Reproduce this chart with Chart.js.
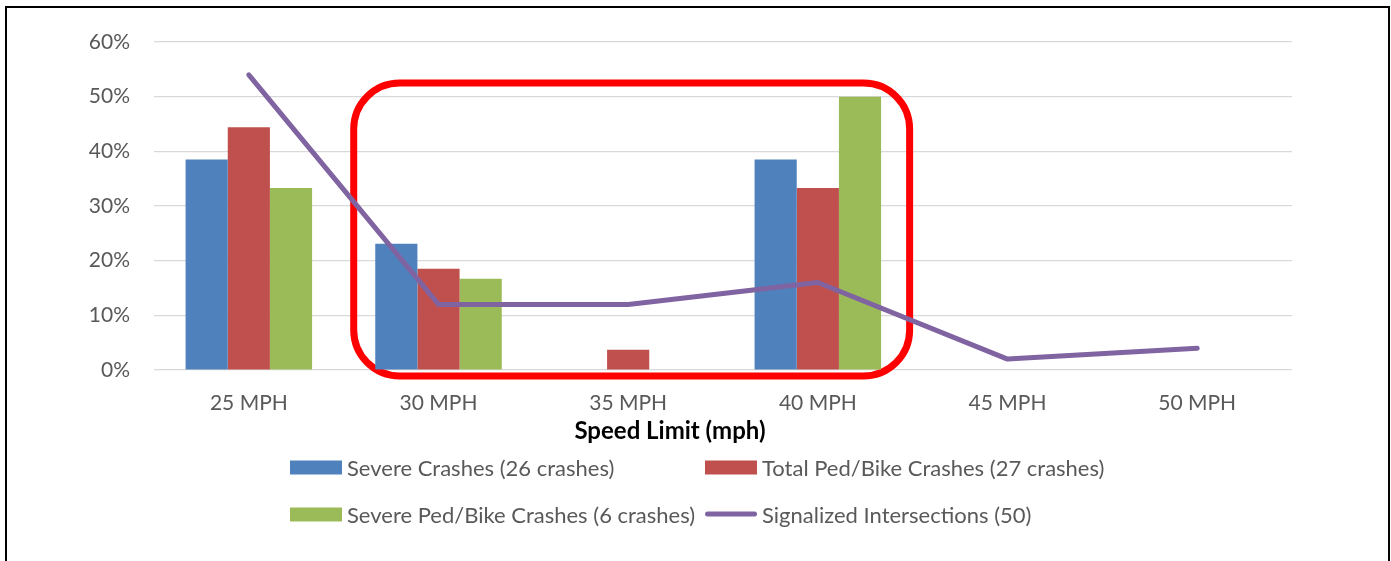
<!DOCTYPE html>
<html>
<head>
<meta charset="utf-8">
<script src="https://cdn.jsdelivr.net/npm/chart.js@4.4.1/dist/chart.umd.min.js"></script>
<style>
  html, body { margin: 0; padding: 0; background: #fff; overflow: hidden; }
  body { width: 1391px; height: 561px; position: relative; font-family: Lato, "Liberation Sans", sans-serif; }
  .frame { position: absolute; left: 5px; top: 6px; width: 1385px; height: 620px; box-sizing: border-box; border: 2px solid #000; }
  .wrap { position: absolute; left: 0; top: 0; width: 1391px; height: 561px; }
  .axis-title { position: absolute; left: 670px; top: 429px; transform: translate(-50%, -50%); font-size: 24px; font-weight: bold; color: #000; white-space: nowrap; }
  .legend { position: absolute; left: 0; top: 0; width: 1391px; height: 561px; pointer-events: none; }
  .legend .item { position: absolute; display: flex; align-items: center; font-size: 22px; color: #595959; white-space: nowrap; transform: translateY(-50%); }
  .legend .swatch { width: 52px; height: 14px; margin-right: 5px; }
  .legend .swatch.line { height: 5px; border-radius: 3px; }
</style>
</head>
<body>
<div class="frame"></div>
<div class="wrap"><canvas id="speedChart" width="1391" height="561"></canvas></div>
<div class="axis-title">Speed Limit (mph)</div>
<div class="legend" id="legend"></div>
<script>
const categories = ['25 MPH', '30 MPH', '35 MPH', '40 MPH', '45 MPH', '50 MPH'];
const severeCrashes = [38.5, 23.1, 0, 38.5, 0, 0];
const totalPedBike = [44.4, 18.5, 3.7, 33.3, 0, 0];
const severePedBike = [33.3, 16.7, 0, 50.0, 0, 0];
const signalized = [54, 12, 12, 16, 2, 4];
const yTicks = [0, 10, 20, 30, 40, 50, 60];

const seriesNames = [
    'Severe Crashes (26 crashes)',
    'Total Ped/Bike Crashes (27 crashes)',
    'Severe Ped/Bike Crashes (6 crashes)',
    'Signalized Intersections (50)'
];

const fontFamily = 'Lato, "Liberation Sans", sans-serif';

// red rounded box drawn behind the series, placed from the scales
const highlightBox = {
    id: 'highlightBox',
    beforeDatasetsDraw(chart) {
        const x = chart.scales.x, y = chart.scales.y;
        const cat = x.getPixelForValue(1) - x.getPixelForValue(0);
        const left = x.getPixelForValue(1) - cat * 0.447;
        const right = x.getPixelForValue(3) + cat * 0.484;
        const top = y.getPixelForValue(52.5);
        const bottom = y.getPixelForValue(-1.1);
        const ctx = chart.ctx;
        ctx.save();
        ctx.strokeStyle = '#FF0000';
        ctx.lineWidth = 7;
        ctx.beginPath();
        ctx.roundRect(left, top, right - left, bottom - top, 46);
        ctx.stroke();
        ctx.restore();
    }
};

const ctx = document.getElementById('speedChart').getContext('2d');
const chart = new Chart(ctx, {
    type: 'bar',
    data: {
        labels: categories,
        datasets: [
            {
                type: 'line',
                label: seriesNames[3],
                data: signalized,
                borderColor: '#8064A2',
                backgroundColor: '#8064A2',
                borderWidth: 5,
                pointRadius: 0,
                borderCapStyle: 'round',
                borderJoinStyle: 'round',
                tension: 0,
                order: 0
            },
            { label: seriesNames[0], data: severeCrashes, backgroundColor: '#4F81BD', order: 1 },
            { label: seriesNames[1], data: totalPedBike, backgroundColor: '#C0504D', order: 1 },
            { label: seriesNames[2], data: severePedBike, backgroundColor: '#9BBB59', order: 1 }
        ]
    },
    options: {
        responsive: false,
        animation: false,
        layout: {
            padding: { left: 0, right: 99, top: 42, bottom: 119 }
        },
        datasets: {
            bar: {
                categoryPercentage: 0.667,
                barPercentage: 1.0,
                borderWidth: 0
            }
        },
        plugins: {
            legend: { display: false },
            tooltip: { enabled: false }
        },
        scales: {
            x: {
                afterFit(scale) { scale.height = 72; },
                grid: { display: false },
                border: { display: false },
                ticks: {
                    color: '#595959',
                    padding: 13,
                    font: { family: fontFamily, size: 21 }
                }
            },
            y: {
                min: 0,
                max: 60,
                afterFit(scale) { scale.width = 154; },
                afterBuildTicks(scale) {
                    scale.ticks = yTicks.map(v => ({ value: v }));
                },
                grid: {
                    color: '#D9D9D9',
                    lineWidth: 1.2,
                    drawTicks: false
                },
                border: { display: false },
                ticks: {
                    color: '#595959',
                    padding: 24,
                    font: { family: fontFamily, size: 21 },
                    callback: v => v + '%'
                }
            }
        }
    },
    plugins: [highlightBox]
});

// two-column legend below the chart, built from the datasets
const legendSlots = [
    { ds: 1, left: 290, top: 467 },
    { ds: 2, left: 705, top: 467 },
    { ds: 3, left: 290, top: 514 },
    { ds: 0, left: 705, top: 514 }
];
const legendEl = document.getElementById('legend');
legendSlots.forEach(slot => {
    const ds = chart.data.datasets[slot.ds];
    const item = document.createElement('div');
    item.className = 'item';
    item.style.left = slot.left + 'px';
    item.style.top = slot.top + 'px';
    const sw = document.createElement('span');
    sw.className = 'swatch' + (ds.type === 'line' ? ' line' : '');
    sw.style.background = ds.type === 'line' ? ds.borderColor : ds.backgroundColor;
    const txt = document.createElement('span');
    txt.textContent = ds.label;
    item.appendChild(sw);
    item.appendChild(txt);
    legendEl.appendChild(item);
});
</script>
</body>
</html>
